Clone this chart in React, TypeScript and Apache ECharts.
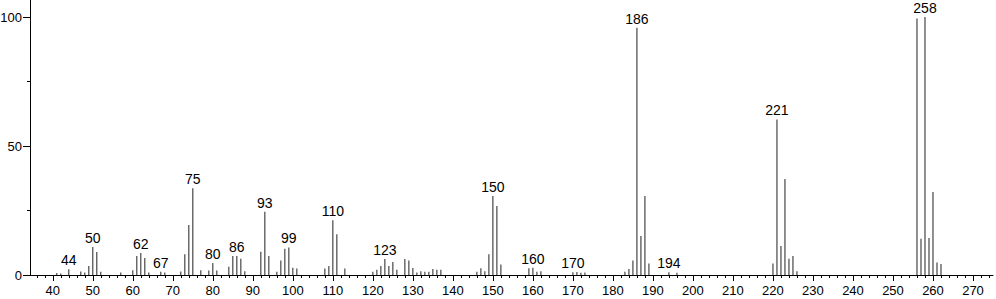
import React, { useEffect, useRef } from "react";
import * as echarts from "echarts";

const mzValues = [
  41, 42, 44, 47, 48, 49, 50, 51, 52, 57, 60, 61, 62, 63, 64, 67, 68, 72, 73, 74,
  75, 77, 79, 80, 81, 84, 85, 86, 87, 88, 92, 93, 94, 96, 97, 98, 99, 100, 101, 108,
  109, 110, 111, 113, 120, 121, 122, 123, 124, 125, 126, 128, 129, 130, 131, 132, 133, 134, 135, 136,
  137, 146, 147, 148, 149, 150, 151, 152, 159, 160, 161, 162, 170, 171, 172, 173, 183, 184, 185, 186,
  187, 188, 189, 194, 196, 220, 221, 222, 223, 224, 225, 226, 256, 257, 258, 259, 260, 261, 262,
];
const intensities = [
  0.8, 0.6, 2.2, 1.4, 1.0, 3.5, 10.9, 8.9, 1.3, 1.0, 1.8, 7.4, 8.5, 6.6, 1.0, 1.3, 1.0, 1.4, 8.0, 19.4,
  33.6, 1.8, 1.7, 4.7, 1.7, 3.2, 7.4, 7.4, 6.3, 1.5, 9.0, 24.5, 7.4, 1.3, 5.6, 10.2, 10.7, 2.8, 2.5, 2.5,
  3.5, 21.2, 15.8, 2.5, 1.3, 2.0, 3.5, 6.2, 3.5, 5.0, 2.0, 6.2, 5.6, 2.7, 1.0, 1.5, 1.3, 1.3, 2.3, 2.0,
  2.0, 1.3, 2.6, 1.5, 8.0, 30.6, 26.7, 4.1, 2.6, 2.8, 1.3, 1.5, 1.1, 1.2, 0.9, 1.0, 1.3, 2.3, 5.6, 95.8,
  15.1, 30.6, 4.5, 1.1, 0.9, 4.5, 60.3, 11.2, 37.2, 6.3, 7.4, 1.5, 99.4, 14.1, 100, 14.3, 32.2, 4.8, 4.3,
];
const labeledPeaks = [44, 50, 62, 67, 75, 80, 86, 93, 99, 110, 123, 150, 160, 170, 186, 194, 221, 258];

const xMajorTicks = [40, 50, 60, 70, 80, 90, 100, 110, 120, 130, 140, 150, 160, 170, 180, 190, 200, 210, 220, 230, 240, 250, 260, 270];
const xMinorTicks = [
  36, 38, 42, 44, 46, 48, 52, 54, 56, 58, 62, 64, 66, 68, 72, 74, 76, 78, 82, 84, 86, 88,
  92, 94, 96, 98, 102, 104, 106, 108, 112, 114, 116, 118, 122, 124, 126, 128, 132, 134, 136, 138,
  142, 144, 146, 148, 152, 154, 156, 158, 162, 164, 166, 168, 172, 174, 176, 178, 182, 184, 186, 188,
  192, 194, 196, 198, 202, 204, 206, 208, 212, 214, 216, 218, 222, 224, 226, 228, 232, 234, 236, 238,
  242, 244, 246, 248, 252, 254, 256, 258, 262, 264, 266, 268, 272, 274,
];
const yMajorTicks = [0, 50, 100];
const yMinorTicks = [25, 75];

const FONT = '"Liberation Sans", Arial, Helvetica, sans-serif';

export default function App() {
  const ref = useRef<HTMLDivElement>(null);
  useEffect(() => {
    if (!ref.current) return;
    const chart = echarts.init(ref.current, undefined, { renderer: "svg" });
    const xMin = 34.3;
    const xMax = 275;
    const yMax = 106.6;
    const lineStyle = { color: "#000", width: 1 };
    chart.setOption({
      animation: false,
      grid: { left: 30, right: 3, top: 0, bottom: 24, containLabel: false, outerBoundsMode: "none" },
      xAxis: [
        {
          type: "value",
          min: xMin,
          max: xMax,
          position: "bottom",
          axisLine: { show: true, onZero: false, lineStyle },
          axisTick: { show: true, length: 3, lineStyle, customValues: xMinorTicks },
          axisLabel: { show: false },
          splitLine: { show: false },
        },
        {
          type: "value",
          min: xMin,
          max: xMax,
          position: "bottom",
          axisLine: { show: false, onZero: false },
          axisTick: { show: true, length: 6, lineStyle, customValues: xMajorTicks },
          axisLabel: {
            show: true,
            customValues: xMajorTicks,
            margin: 9,
            color: "#000",
            fontSize: 13,
            fontFamily: FONT,
          },
          splitLine: { show: false },
        },
      ],
      yAxis: [
        {
          type: "value",
          min: 0,
          max: yMax,
          position: "left",
          axisLine: { show: true, onZero: false, lineStyle },
          axisTick: { show: true, length: 3, lineStyle, customValues: yMinorTicks },
          axisLabel: { show: false },
          splitLine: { show: false },
        },
        {
          type: "value",
          min: 0,
          max: yMax,
          position: "left",
          axisLine: { show: false, onZero: false },
          axisTick: { show: true, length: 7, lineStyle, customValues: yMajorTicks },
          axisLabel: {
            show: true,
            customValues: yMajorTicks,
            margin: 8,
            color: "#000",
            fontSize: 13,
            fontFamily: FONT,
          },
          splitLine: { show: false },
        },
      ],
      series: [
        {
          type: "bar",
          xAxisIndex: 0,
          yAxisIndex: 0,
          barWidth: 1,
          itemStyle: { color: "#222" },
          data: mzValues.map((m, i) => ({
            value: [m, intensities[i]],
            label: {
              show: labeledPeaks.includes(m),
              position: "top",
              distance: 2,
              formatter: String(m),
              color: "#000",
              fontSize: 14,
              fontFamily: FONT,
            },
          })),
        },
      ],
    });
    return () => chart.dispose();
  }, []);
  return <div ref={ref} style={{ width: 996, height: 299, position: "absolute", left: 0, top: 0 }} />;
}
